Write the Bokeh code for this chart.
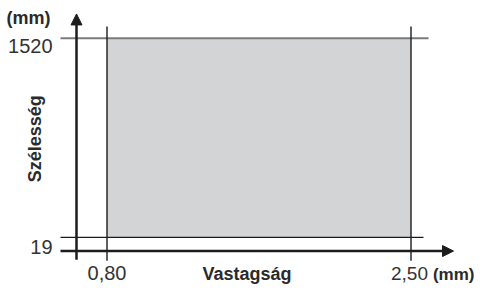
import math
from bokeh.plotting import figure
from bokeh.models import Range1d, Arrow, NormalHead
from bokeh.core.properties import value
from bokeh.embed import file_html
from bokeh.resources import INLINE

# ---- data ----
thickness = [0.80, 2.50]          # mm (Vastagság)
width_mm = [19, 1520]             # mm (Szélesség)
x_tick_labels = ["0,80", "2,50"]
y_tick_labels = ["19", "1520"]
x_title = "Vastagság"
y_title = "Szélesség"
unit = "(mm)"

# ---- layout ----
W, H = 475, 286


def fy(py):
    # vertical layout squeeze so the whole drawing fits in the figure
    return (py - 4) * 0.96


PX = (106.5, 410.5)           # screen x of thickness min / max
PY = (fy(250.7), fy(43.3))    # screen y (from top) of width min / max
sx = (PX[1] - PX[0]) / (thickness[1] - thickness[0])
sy = (PY[0] - PY[1]) / (width_mm[1] - width_mm[0])


def X(px):
    return thickness[0] + (px - PX[0]) / sx


def Y(py):
    return width_mm[0] + (PY[0] - fy(py)) / sy


# renderer places text lower than the requested baseline; compensate
K20 = 8.5 / 0.96
K18 = 7.5 / 0.96

p = figure(width=W, height=H,
           x_range=Range1d(X(0), X(W)),
           y_range=Range1d(width_mm[0] + (PY[0] - H) / sy, width_mm[0] + PY[0] / sy),
           output_backend="svg", toolbar_location=None, min_border=0)
p.axis.visible = False
p.grid.visible = False
p.outline_line_color = None
p.background_fill_color = "white"
p.border_fill_color = "white"

DARK = "#1c1c1c"
TXT = "#2a2a2a"
NUM = "#333333"
FONT = value("Liberation Sans")

# shaded region
p.quad(left=[thickness[0]], right=[thickness[1]], bottom=[width_mm[0]], top=[width_mm[1]],
       fill_color="#d3d4d6", line_color=None)

# horizontal limit lines
p.segment(x0=[X(60)], x1=[X(428)], y0=[width_mm[1]], y1=[width_mm[1]],
          line_color="#7b7b7b", line_width=2)
p.segment(x0=[X(60)], x1=[X(423)], y0=[width_mm[0]], y1=[width_mm[0]],
          line_color=DARK, line_width=1.3)
# vertical limit lines
p.segment(x0=thickness, x1=thickness, y0=[Y(31)] * 2, y1=[Y(275)] * 2,
          line_color=DARK, line_width=1.4)

# axes with arrows
p.add_layout(Arrow(x_start=X(76), y_start=Y(274), x_end=X(76), y_end=Y(18),
                   line_width=2.5, line_color=DARK,
                   end=NormalHead(size=11, fill_color=DARK, line_color=DARK, line_width=1)))
p.add_layout(Arrow(x_start=X(60), y_start=Y(265), x_end=X(453), y_end=Y(265),
                   line_width=2.5, line_color=DARK,
                   end=NormalHead(size=11, fill_color=DARK, line_color=DARK, line_width=1)))

# tick labels
p.text(x=[thickness[0]], y=[Y(297 - K20)], text=x_tick_labels[:1], text_align="center",
       text_baseline="alphabetic", text_font=FONT, text_font_size="20px", text_color=NUM)
p.text(x=[X(409)], y=[Y(297 - K20)], text=x_tick_labels[1:], text_align="center",
       text_baseline="alphabetic", text_font=FONT, text_font_size="19px", text_color=NUM)
p.text(x=[X(52)] * 2, y=[Y(270 - K20), Y(60 - K20)], text=y_tick_labels,
       text_align="right", text_baseline="alphabetic", text_font=FONT, text_font_size="20px",
       text_color=NUM)

# titles / units
p.text(x=[X(6)], y=[Y(30 - K18)], text=[unit], text_align="left", text_baseline="alphabetic",
       text_font=FONT, text_font_size="18px", text_font_style="bold", text_color=TXT)
p.text(x=[X(474)], y=[Y(297 - K18)], text=[unit], text_align="right", text_baseline="alphabetic",
       text_font=FONT, text_font_size="17px", text_font_style="bold", text_color=TXT)
p.text(x=[X(246.5)], y=[Y(297 - K18)], text=[x_title], text_align="center",
       text_baseline="alphabetic", text_font=FONT, text_font_size="18px",
       text_font_style="bold", text_color=TXT)
p.text(x=[X(42 - 7.5)], y=[Y(148)], text=[y_title], angle=math.pi / 2, text_align="center",
       text_baseline="alphabetic", text_font=FONT, text_font_size="18px", text_font_style="bold",
       text_color=TXT)

open("out.html", "w").write(file_html(p, INLINE))
